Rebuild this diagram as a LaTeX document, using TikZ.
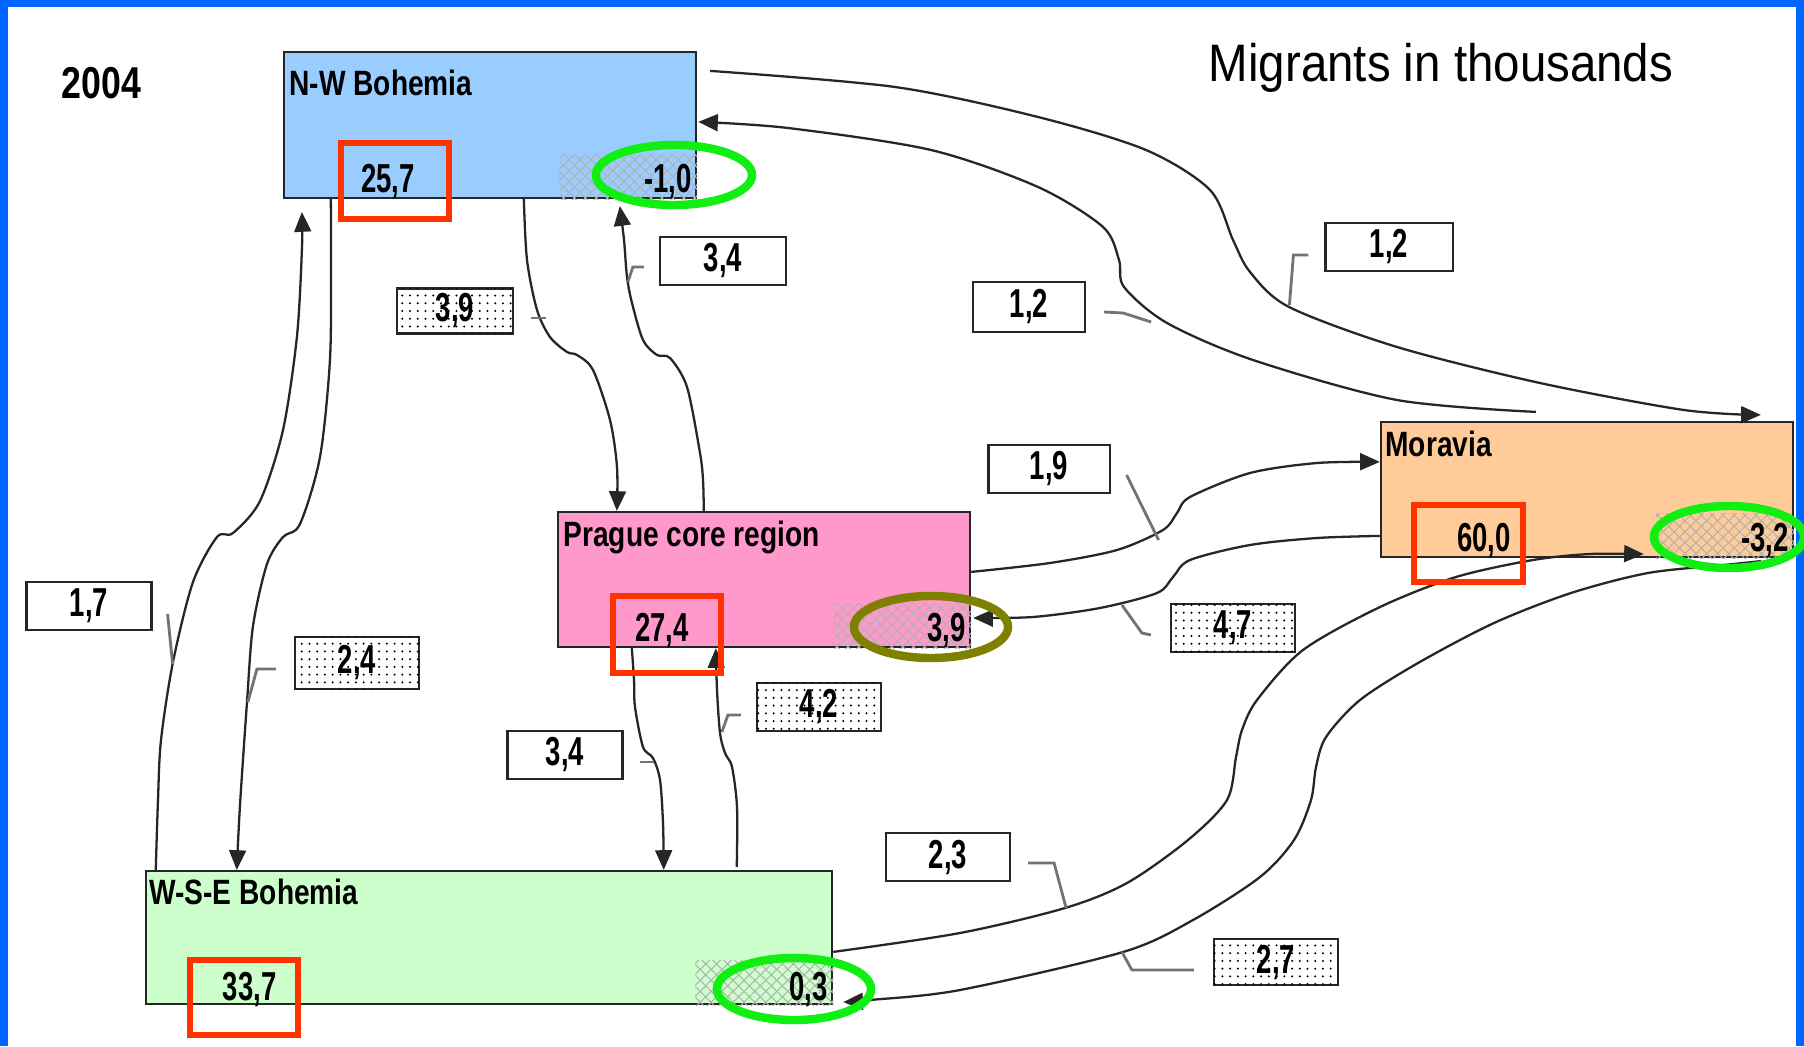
\documentclass[tikz,border=0pt]{standalone}
\usepackage{fontspec}
\setmainfont{Liberation Sans}
\newfontfamily\rgnfont[FakeStretch=0.8]{Liberation Sans}
\newfontfamily\valfont[FakeStretch=0.68]{Liberation Sans}
\newfontfamily\capfont[FakeStretch=0.9]{Liberation Sans}
\usetikzlibrary{arrows.meta, calc, patterns.meta}

\definecolor{nwblue}{HTML}{99CCFF}
\definecolor{prpink}{HTML}{FF99CC}
\definecolor{moorange}{HTML}{FFCC99}
\definecolor{wsgreen}{HTML}{CCFFCC}
\definecolor{redfr}{HTML}{FF3300}
\definecolor{ringgr}{HTML}{11EE11}
\definecolor{ringol}{HTML}{808000}
\definecolor{framebl}{HTML}{0066FF}

\begin{document}
\begin{tikzpicture}[x=0.01cm, y=-0.01cm,
  region/.style={draw=black!85, line width=0.6pt, minimum width=4.12cm, minimum height=1.35cm, inner sep=0pt},
  rname/.style={anchor=base west, inner sep=0pt, font=\rgnfont\bfseries\fontsize{10}{12}\selectfont},
  val/.style={inner sep=0pt, font=\valfont\bfseries\fontsize{11.5}{13}\selectfont},
  grossval/.style={val, anchor=base},
  netval/.style={val, anchor=base east},
  hatch/.style={pattern={Lines[angle=45,distance=2.2pt,line width=0.3pt]}, pattern color=black!30,
                postaction={pattern={Lines[angle=-45,distance=2.2pt,line width=0.3pt]}, pattern color=black!30}},
  redbox/.style={draw=redfr, line width=1.6pt},
  ring/.style={draw=ringgr, line width=2.4pt},
  flowlbl/.style={draw=black!85, line width=0.6pt, fill=white, minimum width=1.24cm, minimum height=0.48cm,
                  inner sep=0pt, font=\valfont\bfseries\fontsize{11.5}{13}\selectfont},
  dotlbl/.style={flowlbl, postaction={pattern={Dots[distance=2.2pt,radius=0.32pt]}}},
  flow/.style={line width=0.65pt, black!85, -{Triangle[length=5.6pt,width=4.8pt]}},
  lead/.style={line width=0.8pt, black!55}
]
\useasboundingbox (0,0) rectangle (1804,1046);
\fill[framebl] (0,0) rectangle (1804,1046);
\fill[white] (8,7) rectangle (1796,1046);

\node[anchor=base west, inner sep=0pt, font=\rgnfont\bfseries\fontsize{12.7}{15}\selectfont] (year) at (61,99) {2004};
\node[anchor=base west, inner sep=0pt, font=\capfont\fontsize{15}{18}\selectfont] (unit) at (1208,82) {Migrants in thousands};

% regions
\node[region, fill=nwblue, minimum height=1.46cm] (nw) at (490,125) {};
\node[region, fill=prpink] (pr) at (764,579.5) {};
\node[region, fill=moorange] (mo) at (1587,489.5) {};
\node[region, fill=wsgreen, minimum width=6.86cm, minimum height=1.33cm] (ws) at (489,937.5) {};

\foreach \r in {nw,pr,mo,ws}
  \path[hatch] ($(\r.south east)+(-138,-45)$) rectangle (\r.south east);

\node[rname] (nw-t) at ($(nw.north west)+(6,45)$) {N-W Bohemia};
\node[rname] (pr-t) at ($(pr.north west)+(6,36)$) {Prague core region};
\node[rname] (mo-t) at ($(mo.north west)+(5,36)$) {Moravia};
\node[rname] (ws-t) at ($(ws.north west)+(4,35)$) {W-S-E Bohemia};

\node[grossval] (nw-in) at ($(nw.south west)+(105,-7)$) {25,7};
\node[grossval] (pr-in) at ($(pr.south west)+(105,-7)$) {27,4};
\node[grossval] (mo-in) at ($(mo.south west)+(104,-7)$) {60,0};
\node[grossval] (ws-in) at ($(ws.south west)+(105,-5)$) {33,7};
\node[netval] (nw-net) at ($(nw.south east)+(-5,-7)$) {-1,0};
\node[netval] (pr-net) at ($(pr.south east)+(-5,-7)$) {3,9};
\node[netval] (mo-net) at ($(mo.south east)+(-5,-7)$) {-3,2};
\node[netval] (ws-net) at ($(ws.south east)+(-5,-5)$) {0,3};

% flows
\draw[flow] plot[smooth] coordinates {($(nw.south west)+(48,0)$) (331,260) (330,359) (320,457) (300,524) (283,537) (267,564) (253,626) (247,702) (240,805) ($(ws.north west)+(92,0)$)};
\draw[flow] plot[smooth] coordinates {($(ws.north west)+(11,0)$) (158,800) (161,740) (173,662) (193,582) (217,537) (233,533) (260,501) (283,430) (297,336) (302,247) ($(nw.south west)+(19,13)$)};
\draw[flow] plot[smooth] coordinates {($(nw.south west)+(241,0)$) (527,260) (537,310) (550,337) (567,352) (577,355) (593,370) (610,420) (617,467) ($(pr.north west)+(60,0)$)};
\draw[flow] plot[smooth] coordinates {($(pr.north west)+(147,0)$) (703,480) (700,453) (687,387) (670,358) (657,355) (643,340) (632,303) (627,277) (624,240) ($(nw.south west)+(337,7)$)};
\draw[flow] plot[smooth] coordinates {($(pr.south west)+(75,0)$) (634,680) (635,707) (643,747) (653,758) (660,780) (663,823) ($(ws.north west)+(519,0)$)};
\draw[flow] plot[smooth] coordinates {($(ws.north west)+(592,-3)$) (737,807) (732,767) (725,753) (720,733) (717,690) ($(pr.south west)+(159,0)$)};
\draw[flow] plot[smooth] coordinates {($(nw.north east)+(13,20)$) (895,87) (1038,117) (1146,150) (1210,190) (1233,240) (1250,272) (1289,307) (1397,347) (1540,383) (1684,410) ($(mo.north west)+(381,-6)$)};
\draw[flow] plot[smooth] coordinates {($(mo.north west)+(156,-9)$) (1397,400) (1253,360) (1167,323) (1124,287) (1119,260) (1103,227) (1038,187) (931,150) (788,128) ($(nw.north east)+(1,71)$)};
\draw[flow] plot[smooth] coordinates {($(pr.north east)+(0,61)$) (1050,563) (1117,550) (1163,530) (1177,513) (1190,497) (1250,473) (1317,463) ($(mo.north west)+(0,41)$)};
\draw[flow] plot[smooth] coordinates {($(mo.north west)+(0,115)$) (1317,538) (1250,545) (1190,560) (1173,577) (1157,593) (1100,608) (1033,617) ($(pr.north east)+(2,107)$)};
\draw[flow] plot[smooth] coordinates {($(ws.north east)+(0,82)$) (960,933) (1065,908) (1127,883) (1188,840) (1227,800) (1236,757) (1242,730) (1257,700) (1303,650) (1380,607) (1456,577) (1533,560) (1590,554) ($(mo.south west)+(264,-4)$)};
\draw[flow] plot[smooth] coordinates {($(mo.south east)+(-33,3)$) (1724,565) (1648,573) (1571,593) (1494,623) (1418,663) (1360,700) (1326,737) (1316,767) (1311,800) (1294,840) (1260,877) (1193,920) (1123,952) (960,990) (870,1000) ($(ws.south east)+(10,-3)$)};

% flow labels
\node[flowlbl, minimum width=1.26cm] (l34a) at (723,261) {3,4};
\node[dotlbl, minimum width=1.16cm, minimum height=0.45cm] (l39) at (455,311) {3,9};
\node[flowlbl, minimum width=1.12cm, minimum height=0.50cm] (l12a) at (1029,307) {1,2};
\node[flowlbl, minimum width=1.27cm] (l12b) at (1389,247) {1,2};
\node[flowlbl, minimum width=1.21cm] (l19) at (1049,469) {1,9};
\node[dotlbl] (l47) at (1233,628) {4,7};
\node[flowlbl, minimum width=1.25cm] (l17) at (89,606) {1,7};
\node[dotlbl, minimum height=0.52cm] (l24) at (357,663) {2,4};
\node[dotlbl] (l42) at (819,707) {4,2};
\node[flowlbl, minimum width=1.15cm] (l34b) at (565,755) {3,4};
\node[flowlbl] (l23) at (948,857) {2,3};
\node[dotlbl, minimum height=0.46cm] (l27) at (1276,962) {2,7};

\draw[lead] ($(l17.east)+(15,8)$) -- ++(5,50);
\draw[lead] ($(l24.west)+(-18,6)$) -- ++(-19,0) -- ++(-9,33);
\draw[lead] ($(l39.east)+(17,7)$) -- ++(15,0);
\draw[lead] ($(l34a.west)+(-15,6)$) -- ++(-11,0) -- ++(-5,15);
\draw[lead] ($(l12a.east)+(18,5)$) -- ++(19,1) -- ++(28,9);
\draw[lead] ($(l12b.west)+(-16,8)$) -- ++(-15,0) -- ++(-4,50);
\draw[lead] ($(l19.east)+(16,6)$) -- ++(32,65);
\draw[lead] ($(l47.west)+(-19,7)$) -- ++(-9,-2) -- ++(-20,-28);
\draw[lead] ($(l42.west)+(-15,8)$) -- ++(-13,0) -- ++(-6,17);
\draw[lead] ($(l34b.east)+(16,7)$) -- ++(14,0);
\draw[lead] ($(l23.east)+(17,6)$) -- ++(26,0) -- ++(12,45);
\draw[lead] ($(l27.west)+(-19,8)$) -- ++(-62,0) -- ++(-10,-18);

% highlights
\draw[redbox] (341,143) rectangle (449,219);
\draw[redbox] (613,596) rectangle (721,673);
\draw[redbox] (1414,505) rectangle (1523,582);
\draw[redbox] (190,960) rectangle (298,1035);
\draw[ring] (674,175) ellipse [x radius=0.78cm, y radius=0.30cm];
\draw[ring, draw=ringol] (931,627) ellipse [x radius=0.77cm, y radius=0.31cm];
\draw[ring] (1729,537) ellipse [x radius=0.75cm, y radius=0.31cm];
\draw[ring] (794,989) ellipse [x radius=0.77cm, y radius=0.31cm];
\end{tikzpicture}
\end{document}
